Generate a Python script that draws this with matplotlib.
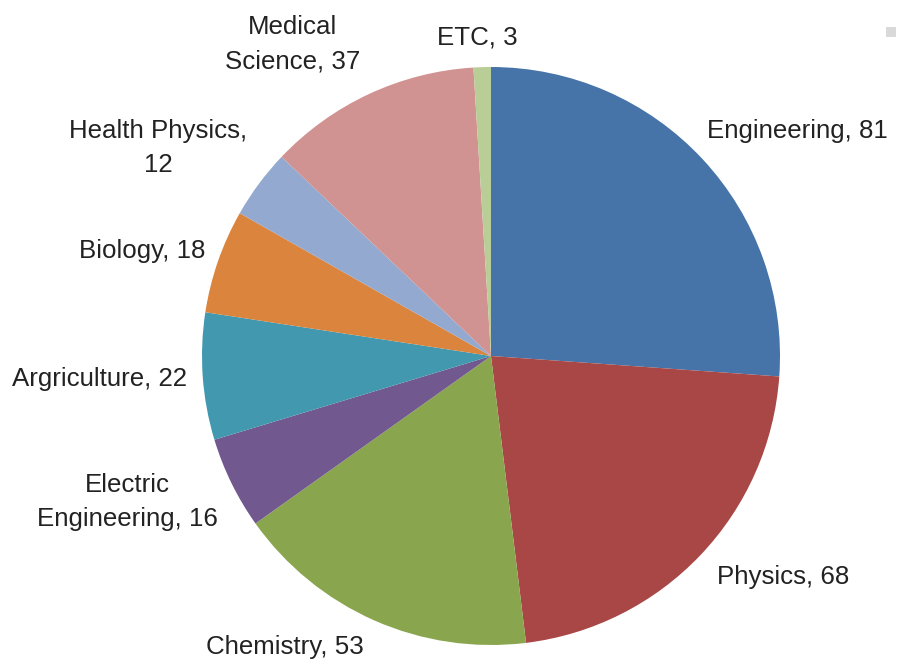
import matplotlib
matplotlib.use("Agg")
import matplotlib.pyplot as plt
from matplotlib.patches import Rectangle

categories = ["Engineering", "Physics", "Chemistry", "Electric\nEngineering",
              "Argriculture", "Biology", "Health Physics,\n", "Medical\nScience", "ETC"]
values = [81, 68, 53, 16, 22, 18, 12, 37, 3]
colors = ["#4674A8", "#A84745", "#89A54E", "#71588F", "#4198AF",
          "#DB843D", "#93A9CF", "#D19392", "#B9CD96"]

plt.rcParams['font.family'] = ['Liberation Sans', 'DejaVu Sans']

fig = plt.figure(figsize=(8.97, 6.6), dpi=100)
ax = fig.add_axes([0, 0, 1, 1])

cx, cy, r = 491, 660 - 356, 289
ax.pie(values, colors=colors, startangle=90, counterclock=False,
       center=(cx, cy), radius=r, frame=True,
       wedgeprops=dict(linewidth=0))
ax.set_xlim(0, 897)
ax.set_ylim(0, 660)
ax.set_aspect('equal')
ax.axis('off')

label_pos = [(797, 131), (783, 577), (285, 647), (127, 502), (100, 379),
             (142, 251), (158, 148), (293, 44), (477, 37)]
for cat, v, (px, py) in zip(categories, values, label_pos):
    if cat.endswith(",\n"):
        txt = cat + f"{v}"
    else:
        txt = f"{cat}, {v}"
    ax.text(px, 660 - py, txt, ha='center', va='center', fontsize=18.6,
            color='#222222', multialignment='center', linespacing=1.55)

fig.patches.append(Rectangle((886 / 897, (660 - 37) / 660), 10 / 897, 10 / 660,
                             transform=fig.transFigure, facecolor='#D9D9D9',
                             edgecolor='none'))

fig.savefig("out.png", dpi=100)
